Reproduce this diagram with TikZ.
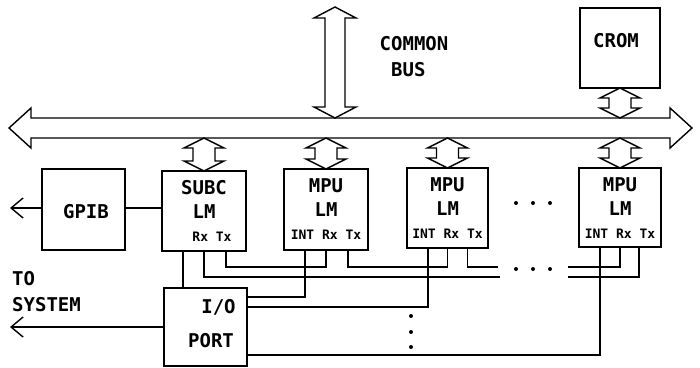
\documentclass[tikz,border=0pt]{standalone}
\usepackage{fontspec}
\newfontfamily\plotfont{DejaVu Sans Mono}
\usepackage{tikz}
\usetikzlibrary{arrows.meta}

\begin{document}
\begin{tikzpicture}[x=1pt,y=-1pt,
  blk/.style={draw,line width=1.4pt,inner sep=0pt},
  big/.style={font=\plotfont\bfseries\fontsize{19}{26}\selectfont,inner sep=0pt},
  small/.style={font=\plotfont\bfseries\fontsize{13}{15}\selectfont,inner sep=0pt},
  wire/.style={line width=1.4pt},
  busline/.style={line width=1.4pt,line join=miter},
  outarrow/.style={wire,-{Straight Barb[length=12pt,width=20pt,line width=1.4pt]}}]
\useasboundingbox (0,0) rectangle (700,367);
% the common bus
\draw[busline] (9,128) -- (31,108) -- (31,118) -- (670,118) -- (670,108) -- (692,128)
  -- (670,148) -- (670,138) -- (31,138) -- (31,148) -- cycle;
\draw[busline] (335,7) -- (314,18) -- (325,18) -- (325,107) -- (314,107) -- (335,118)
  -- (356,107) -- (345,107) -- (345,18) -- (356,18) -- cycle;
\node[big,align=left] (busname) at (414,57) {COMMON\\~BUS};
% blocks
\node[blk,minimum width=80,minimum height=80] (crom) at (620,48) {};
\node[big] (crom-t) at (616,41) {CROM};
\node[blk,minimum width=83,minimum height=81] (gpib) at (83.5,209.5) {};
\node[big] (gpib-t) at (86,212) {GPIB};
\node[blk,minimum width=84,minimum height=80] (subc) at (204,211) {};
\node[blk,minimum width=84,minimum height=81] (mpu1) at (326,209.5) {};
\node[blk,minimum width=81,minimum height=80] (mpu2) at (447.5,208) {};
\node[blk,minimum width=82,minimum height=79] (mpu3) at (620,207.5) {};
\node[blk,minimum width=83,minimum height=78] (io) at (205.5,327) {};
\node[big] (subc-t) at ([yshift=-17]subc.north) {SUBC};
\node[big] (subc-lm) at ([yshift=-41]subc.north) {LM};
\node[small] (subc-p) at ([xshift=8,yshift=-66]subc.north) {Rx Tx};
\foreach \m in {mpu1,mpu2,mpu3} {
  \node[big] (\m-t) at ([yshift=-17]\m.north) {MPU};
  \node[big] (\m-lm) at ([yshift=-41]\m.north) {LM};
  \node[small] (\m-p) at ([yshift=-66]\m.north) {INT Rx Tx};
}
\node[big] (io-t) at (218.5,307) {I/O};
\node[big] (io-p) at (211,341) {PORT};
\node[big,align=left,anchor=west] (sys) at (12,291.5) {TO\\SYSTEM};
% links to the bus
\foreach \x/\t/\b in {204/138/171,326/138/169,447.5/138/168,620/138/168,620/88/118}
  \draw[busline] (\x,\t) -- ({\x-20},{\t+10}) -- ({\x-11},{\t+10}) -- ({\x-11},{\b-10})
    -- ({\x-20},{\b-10}) -- (\x,\b) -- ({\x+20},{\b-10}) -- ({\x+11},{\b-10})
    -- ({\x+11},{\t+10}) -- ({\x+20},{\t+10}) -- cycle;
% serial ring
\coordinate (ring-a) at (0,267);
\coordinate (ring-b) at (0,277);
\coordinate (gap-a-w) at (498,267);
\coordinate (gap-a-e) at (568,267);
\coordinate (gap-b-w) at (500,277);
\coordinate (gap-b-e) at (568,277);
\draw[wire] ([xshift=22]subc.south) |- (ring-a -| mpu1.south) -- (mpu1.south);
\draw[wire] ([xshift=22]mpu1.south) |- (ring-a -| mpu2.south) -- (mpu2.south);
\draw[wire] ([xshift=20]mpu2.south) |- (gap-a-w);
\draw[wire] (mpu3.south) |- (gap-a-e);
\draw[wire] (subc.south) |- (gap-b-w);
\draw[wire] ([xshift=19]mpu3.south) |- (gap-b-e);
% interrupts to the port
\draw[wire] ([xshift=-21]mpu1.south) |- ([yshift=30]io.east);
\draw[wire] ([xshift=-19.5]mpu2.south) |- ([yshift=20]io.east);
\draw[wire] ([xshift=-20]mpu3.south) |- ([yshift=-28]io.east);
\coordinate (subc-io) at ([xshift=-21]subc.south);
\draw[wire] (subc-io) -- (subc-io |- io.north);
% outside
\coordinate (gpib-out) at (10,208);
\coordinate (sys-out) at (10,327);
\draw[wire] (gpib.east |- 0,208) -- (subc.west |- 0,208);
\draw[outarrow] (gpib.west |- gpib-out) -- (gpib-out);
\draw[outarrow] (io.west) -- (sys-out);
% more units
\foreach \x in {516,533,550} \fill (\x,203) circle (2pt);
\foreach \x in {516,533,550} \fill (\x,269) circle (2pt);
\foreach \y in {316,332,347} \fill (411,\y) circle (2pt);
\end{tikzpicture}
\end{document}
